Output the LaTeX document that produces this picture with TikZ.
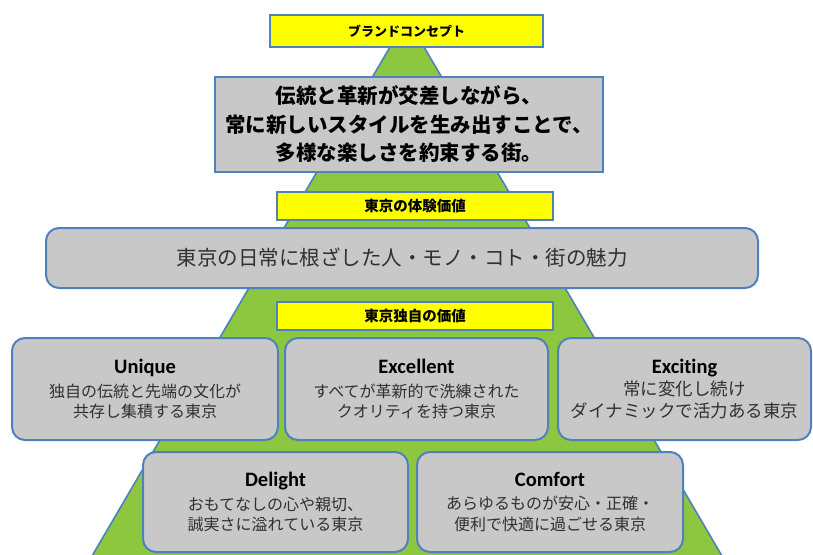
\documentclass[tikz,border=0pt]{standalone}
\usepackage{fontspec}
\newfontfamily\jp{Noto Sans CJK JP}
\newfontfamily\lat[Ligatures=NoCommon]{Carlito}
\definecolor{tgreen}{HTML}{8DC63F}
\definecolor{tblue}{HTML}{4F81BD}
\definecolor{tgray}{HTML}{C8C8C8}
\definecolor{tyellow}{HTML}{FFFF00}
\definecolor{ttext}{HTML}{303030}
\tikzset{
  ylabel/.style={draw=tblue, line width=1.6pt, fill=tyellow, inner sep=0pt, font=\jp\bfseries\fontsize{13}{15}\selectfont},
  graybox/.style={draw=tblue, line width=2pt, fill=tgray, inner sep=0pt, align=center},
  valuebox/.style={graybox, rounded corners=13pt, text=ttext, font=\jp\fontsize{16}{20.5}\selectfont}
}
\newcommand{\ttlf}[1]{{\lat\bfseries\fontsize{20.5}{22}\selectfont\color{black}#1}}
\begin{document}
\begin{tikzpicture}[x=1pt,y=-1pt]
\useasboundingbox (0,0) rectangle (813,554);
\fill[white] (0,0) rectangle (813,554);
% pyramid
\coordinate (apex) at (407,18);
\coordinate (bl) at (92,556);
\coordinate (br) at (722,556);
\draw[tblue, line width=1.6pt, fill=tgreen] (apex) -- (bl) -- (br) -- cycle;
% top
\node[ylabel, minimum width=273pt, minimum height=32pt] (concept) at (406.5,31) {ブランドコンセプト};
\node[graybox, minimum width=388pt, minimum height=95pt, font=\jp\bfseries\fontsize{20.5}{28.5}\selectfont] (brand) at (409,124.5)
  {伝統と革新が交差しながら、\\常に新しいスタイルを生み出すことで、\\多様な楽しさを約束する街。};
\node[ylabel, minimum width=276pt, minimum height=28pt, font=\jp\bfseries\fontsize{14.5}{16}\selectfont] (exp) at (415,206) {東京の体験価値};
\node[graybox, rounded corners=13pt, minimum width=712pt, minimum height=60pt, text=ttext, font=\jp\fontsize{20.5}{24}\selectfont] (daily) at (402,258)
  {東京の日常に根ざした人・モノ・コト・街の魅力};
\node[ylabel, minimum width=276pt, minimum height=28pt, font=\jp\bfseries\fontsize{14.5}{16}\selectfont] (own) at (415,316) {東京独自の価値};
% values
\node[valuebox, minimum width=266pt, minimum height=102pt] (unique) at (145,389)
  {\ttlf{Unique}\\[3pt] 独自の伝統と先端の文化が\\共存し集積する東京};
\node[valuebox, minimum width=263pt, minimum height=102pt] (excellent) at (416.5,389)
  {\ttlf{Excellent}\\[3pt] すべてが革新的で洗練された\\クオリティを持つ東京};
\node[valuebox, minimum width=253pt, minimum height=102pt, font=\jp\fontsize{17.5}{22}\selectfont] (exciting) at (684.5,389)
  {\ttlf{Exciting}\\[0pt] 常に変化し続け\\ダイナミックで活力ある東京};
\node[valuebox, minimum width=265pt, minimum height=100pt] (delight) at (275.5,502)
  {\ttlf{Delight}\\[3pt] おもてなしの心や親切、\\誠実さに溢れている東京};
\node[valuebox, minimum width=266pt, minimum height=100pt] (comfort) at (550,502)
  {\ttlf{Comfort}\\[3pt] あらゆるものが安心・正確・\\便利で快適に過ごせる東京};
\end{tikzpicture}
\end{document}
